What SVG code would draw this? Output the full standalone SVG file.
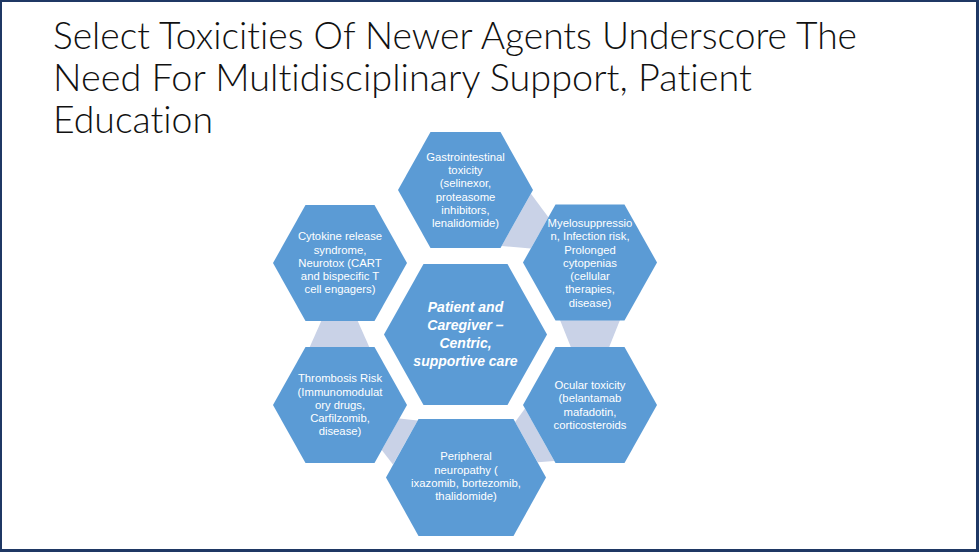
<svg xmlns="http://www.w3.org/2000/svg" width="979" height="552" viewBox="0 0 979 552">
  <style>
    .hex { fill: #5b9bd5; }
    .conn { fill: #c9d2e7; }
    .t { font-family: "Liberation Sans", Arial, sans-serif; font-size: 11.3px; fill: #ffffff; text-anchor: middle; }
    .c { font-family: "Liberation Sans", Arial, sans-serif; font-size: 14px; font-weight: bold; font-style: italic; fill: #ffffff; text-anchor: middle; }
    .title { font-family: Lato, "Liberation Sans", sans-serif; font-weight: 300; font-size: 38px; fill: #111111; font-variant-ligatures: none; font-feature-settings: "liga" 0, "dlig" 0, "clig" 0; }
  </style>
  <rect x="0" y="0" width="979" height="552" fill="#1f3864"/>
  <rect x="2" y="2" width="974" height="547" fill="#ffffff"/>

  <g id="title">
    <text class="title" x="53" y="49" textLength="804" lengthAdjust="spacingAndGlyphs">Select Toxicities Of Newer Agents Underscore The</text>
    <text class="title" x="53" y="91" textLength="699" lengthAdjust="spacingAndGlyphs">Need For Multidisciplinary Support, Patient</text>
    <text class="title" x="53" y="133" textLength="160" lengthAdjust="spacingAndGlyphs">Education</text>
  </g>

  <g id="connectors">
    <polygon class="conn" points="530.96,193.66 501.62,246 530.78,248.58 548.38,217.18"/>
    <polygon class="conn" points="560,320 620,320 609,347.5 571,347.5"/>
    <polygon class="conn" points="524.99,408.55 554.33,460.89 537.78,462.32 515.14,421.92"/>
    <polygon class="conn" points="399.38,418.59 417.62,420.56 392.98,464.52 381.78,449.99"/>
    <polygon class="conn" points="309.5,347.5 369.5,347.5 357.5,320.5 321.5,320.5"/>
  </g>

  <g id="center">
    <polygon class="hex" points="384,334.5 423.5,264 507.5,264 547,334.5 507.5,405 423.5,405"/>
    <text class="c" x="465.5" y="312">Patient and</text>
    <text class="c" x="465.5" y="330">Caregiver –</text>
    <text class="c" x="465.5" y="348">Centric,</text>
    <text class="c" x="465.5" y="366">supportive care</text>
  </g>

  <g id="gastrointestinal">
    <polygon class="hex" points="398,190 430.5,132 500.5,132 533,190 500.5,248 430.5,248"/>
    <text class="t" x="465.5" y="160.6">Gastrointestinal</text>
    <text class="t" x="465.5" y="173.9">toxicity</text>
    <text class="t" x="465.5" y="187.2">(selinexor,</text>
    <text class="t" x="465.5" y="200.5">proteasome</text>
    <text class="t" x="465.5" y="213.8">inhibitors,</text>
    <text class="t" x="465.5" y="227.1">lenalidomide)</text>
  </g>

  <g id="myelosuppression">
    <polygon class="hex" points="523,262.5 555.5,204.5 624.5,204.5 657,262.5 624.5,320.5 555.5,320.5"/>
    <text class="t" x="590" y="226.9">Myelosuppressio</text>
    <text class="t" x="590" y="240.2">n, Infection risk,</text>
    <text class="t" x="590" y="253.5">Prolonged</text>
    <text class="t" x="590" y="266.8">cytopenias</text>
    <text class="t" x="590" y="280.1">(cellular</text>
    <text class="t" x="590" y="293.4">therapies,</text>
    <text class="t" x="590" y="306.7">disease)</text>
  </g>

  <g id="ocular">
    <polygon class="hex" points="523,405 555.5,347 624.5,347 657,405 624.5,463 555.5,463"/>
    <text class="t" x="590" y="388.9">Ocular toxicity</text>
    <text class="t" x="590" y="402.2">(belantamab</text>
    <text class="t" x="590" y="415.5">mafadotin,</text>
    <text class="t" x="590" y="428.8">corticosteroids</text>
  </g>

  <g id="peripheral">
    <polygon class="hex" points="386,477.5 418.5,419 513.5,419 546,477.5 513.5,536 418.5,536"/>
    <text class="t" x="466" y="460.4">Peripheral</text>
    <text class="t" x="466" y="473.7">neuropathy (</text>
    <text class="t" x="466" y="487">ixazomib, bortezomib,</text>
    <text class="t" x="466" y="500.3">thalidomide)</text>
  </g>

  <g id="thrombosis">
    <polygon class="hex" points="273,405 305.5,347 374.5,347 407,405 374.5,463 305.5,463"/>
    <text class="t" x="340" y="382.2">Thrombosis Risk</text>
    <text class="t" x="340" y="395.5">(Immunomodulat</text>
    <text class="t" x="340" y="408.8">ory drugs,</text>
    <text class="t" x="340" y="422.1">Carfilzomib,</text>
    <text class="t" x="340" y="435.4">disease)</text>
  </g>

  <g id="cytokine">
    <polygon class="hex" points="273,263 305.5,205 374.5,205 407,263 374.5,321 305.5,321"/>
    <text class="t" x="340" y="240.2">Cytokine release</text>
    <text class="t" x="340" y="253.5">syndrome,</text>
    <text class="t" x="340" y="266.8">Neurotox (CART</text>
    <text class="t" x="340" y="280.1">and bispecific T</text>
    <text class="t" x="340" y="293.4">cell engagers)</text>
  </g>
</svg>
